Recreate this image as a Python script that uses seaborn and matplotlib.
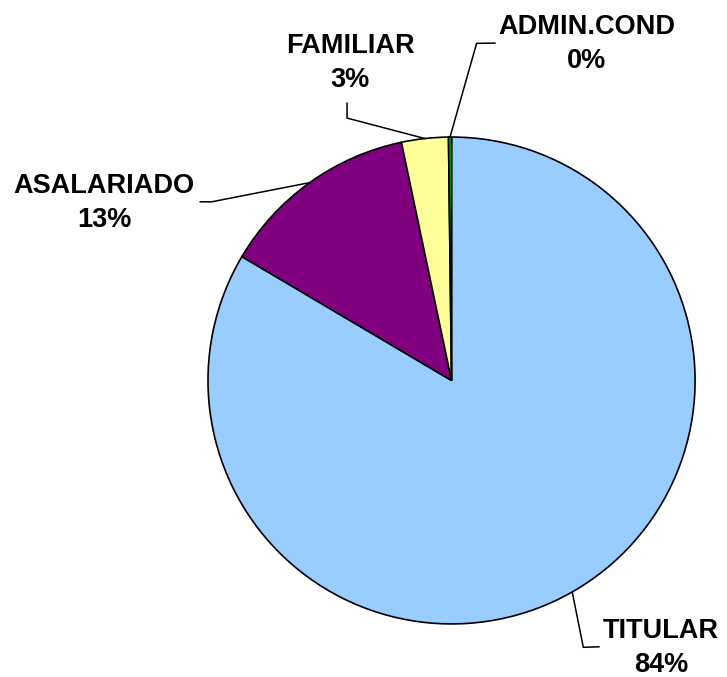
import matplotlib
matplotlib.use('Agg')
import matplotlib.pyplot as plt
import seaborn as sns
import numpy as np

# Data (clockwise from the top)
categories = ['TITULAR', 'ASALARIADO', 'FAMILIAR', 'ADMIN.COND']
values = [83.5, 13.2, 3.1, 0.2]
colors = ['#99CCFF', '#800080', '#FFFF99', '#00CC00']

# label block centre and leader elbow / end points (axes data units, radius = 1)
label_pos = [(0.860, -1.099), (-1.427, 0.729), (-0.417, 1.304), (0.556, 1.382)]
leader_elbow = [(0.541, -1.096), (-0.985, 0.734), (-0.429, 1.078), (0.103, 1.385)]
leader_end = [(0.606, -1.094), (-1.033, 0.734), (-0.429, 1.140), (0.179, 1.386)]

sns.set_theme(style='white')
plt.rcParams['font.family'] = ['Liberation Sans', 'DejaVu Sans']

fig = plt.figure(figsize=(7.27, 6.77), dpi=100)
ax = fig.add_axes([0, 0, 1, 1])

wedges, _ = ax.pie(values, colors=colors, startangle=90, counterclock=False,
                   radius=1, center=(0, 0),
                   wedgeprops=dict(edgecolor='black', linewidth=1.2))

total = sum(values)
for w, name, v, pos, elb, end in zip(wedges, categories, values, label_pos,
                                      leader_elbow, leader_end):
    mid = np.deg2rad((w.theta1 + w.theta2) / 2)
    start = (np.cos(mid), np.sin(mid))
    ax.plot([start[0], elb[0], end[0]], [start[1], elb[1], end[1]],
            color='black', lw=1.1, solid_joinstyle='miter')
    pct = int(v / total * 100 + 0.5)
    ax.text(pos[0], pos[1], f'{name}\n{pct}%', ha='center', va='center',
            fontsize=19.5, fontweight='bold', linespacing=1.4, color='black')

ax.set_xlim(-1.854, 1.131)
ax.set_ylim(-1.218, 1.563)
ax.set_aspect('auto')
ax.axis('off')

fig.savefig('out.png', dpi=100, facecolor='white')
